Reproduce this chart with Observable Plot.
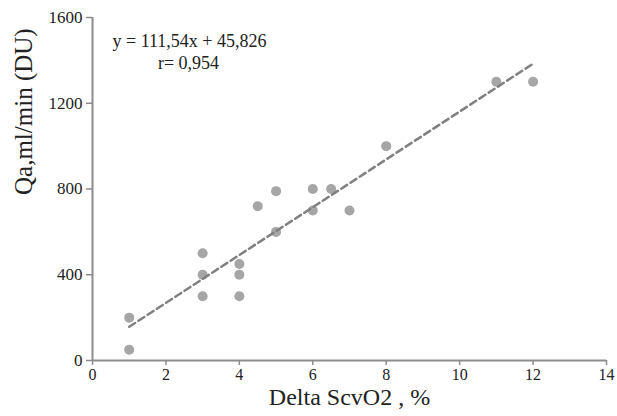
<!DOCTYPE html>
<html>
<head>
<meta charset="utf-8">
<script src="https://cdn.jsdelivr.net/npm/d3@7"></script>
<script src="https://cdn.jsdelivr.net/npm/@observablehq/plot@0.6"></script>
<style>
  html, body { margin: 0; padding: 0; background: #fff; }
  svg text { font-family: 'Liberation Serif', 'Times New Roman', serif; }
</style>
</head>
<body>
<div id="chart"></div>
<script>
const deltaScvO2 = [1, 1, 3, 3, 3, 4, 4, 4, 4.5, 5, 5, 6, 6, 6.5, 7, 8, 11, 12];
const qa = [200, 50, 500, 400, 300, 450, 400, 300, 720, 600, 790, 800, 700, 800, 700, 1000, 1300, 1300];
const slope = 111.54;
const intercept = 45.826;
const trendX = [1, 12];
const xTicks = [0, 2, 4, 6, 8, 10, 12, 14];
const yTicks = [0, 400, 800, 1200, 1600];
const equationText = "y = 111,54x + 45,826";
const rText = "r= 0,954";
const xLabel = "Delta ScvO2 , %";
const yLabel = "Qa,ml/min (DU)";

const points = deltaScvO2.map((x, i) => ({x, y: qa[i]}));
const trend = trendX.map(x => ({x, y: slope * x + intercept}));

const axisColor = "#8c8c8c";
const font = "Liberation Serif";
const fmt = d => String(d);

const chart = Plot.plot({
  width: 617,
  height: 416,
  marginLeft: 92,
  marginRight: 11,
  marginTop: 17,
  marginBottom: 56,
  style: {fontFamily: "'Liberation Serif', serif", fontSize: "17px", color: "#222", background: "#fff"},
  x: {domain: [0, 14], ticks: xTicks, tickFormat: fmt},
  y: {domain: [0, 1600], ticks: yTicks, tickFormat: fmt},
  marks: [
    Plot.ruleX([0], {stroke: axisColor, strokeWidth: 2}),
    Plot.ruleY([0], {stroke: axisColor, strokeWidth: 2}),
    Plot.axisX({ticks: xTicks, tickFormat: fmt, tickSize: 5, tickPadding: 3, stroke: axisColor, strokeWidth: 1.5, fill: "#222", fontSize: 16, fontFamily: font, label: null}),
    Plot.axisY({ticks: yTicks, tickFormat: fmt, tickSize: 6, tickPadding: 4, stroke: axisColor, strokeWidth: 1.5, fill: "#222", fontSize: 17, fontFamily: font, label: null}),
    Plot.dot(points, {x: "x", y: "y", r: 5, fill: "#a6a6a6", stroke: "none"}),
    Plot.line(trend, {x: "x", y: "y", stroke: "#808080", strokeWidth: 2.5, strokeDasharray: "7,4"}),
    Plot.text([equationText], {frameAnchor: "top-left", dx: 97, dy: 17, textAnchor: "middle", fontSize: 18, fontFamily: font, fill: "#222"}),
    Plot.text([rText], {frameAnchor: "top-left", dx: 96, dy: 39, textAnchor: "middle", fontSize: 18, fontFamily: font, fill: "#222"}),
    Plot.text([xLabel], {frameAnchor: "bottom", dy: 44, dx: 0, fontSize: 24, fontFamily: font, fill: "#222"}),
    Plot.text([yLabel], {frameAnchor: "left", dx: -69, dy: 6, rotate: -90, fontSize: 25, fontFamily: font, fill: "#222"})
  ]
});
document.getElementById("chart").appendChild(chart);
</script>
</body>
</html>
